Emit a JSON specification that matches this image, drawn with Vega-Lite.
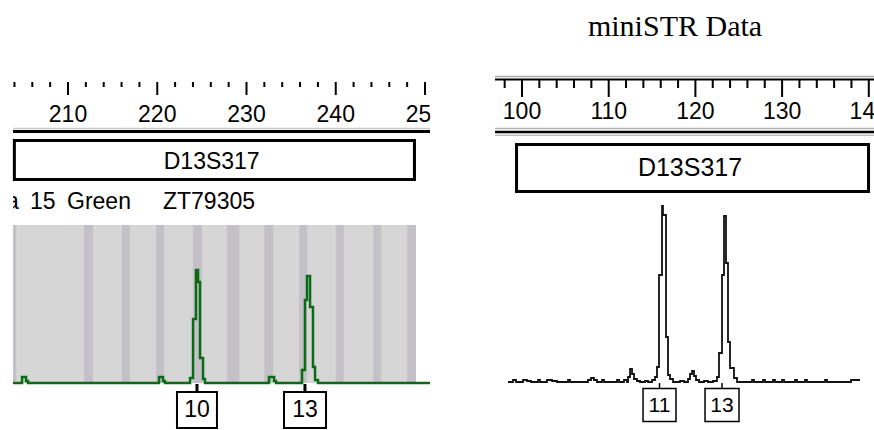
{
  "$schema": "https://vega.github.io/schema/vega-lite/v6.json",
  "width": 874,
  "height": 430,
  "autosize": {"type": "none"},
  "padding": 0,
  "background": "white",
  "config": {"view": {"stroke": null}},
  "datasets": {
    "left_ticks": [
      {"bp": 204, "major": false}, {"bp": 206, "major": false}, {"bp": 208, "major": false}, {"bp": 210, "major": true},
      {"bp": 212, "major": false}, {"bp": 214, "major": false}, {"bp": 216, "major": false}, {"bp": 218, "major": false}, {"bp": 220, "major": true},
      {"bp": 222, "major": false}, {"bp": 224, "major": false}, {"bp": 226, "major": false}, {"bp": 228, "major": false}, {"bp": 230, "major": true},
      {"bp": 232, "major": false}, {"bp": 234, "major": false}, {"bp": 236, "major": false}, {"bp": 238, "major": false}, {"bp": 240, "major": true},
      {"bp": 242, "major": false}, {"bp": 244, "major": false}, {"bp": 246, "major": false}, {"bp": 248, "major": false}, {"bp": 250, "major": true}
    ],
    "right_ticks": [
      {"bp": 98, "major": false}, {"bp": 100, "major": true},
      {"bp": 102, "major": false}, {"bp": 104, "major": false}, {"bp": 106, "major": false}, {"bp": 108, "major": false}, {"bp": 110, "major": true},
      {"bp": 112, "major": false}, {"bp": 114, "major": false}, {"bp": 116, "major": false}, {"bp": 118, "major": false}, {"bp": 120, "major": true},
      {"bp": 122, "major": false}, {"bp": 124, "major": false}, {"bp": 126, "major": false}, {"bp": 128, "major": false}, {"bp": 130, "major": true},
      {"bp": 132, "major": false}, {"bp": 134, "major": false}, {"bp": 136, "major": false}, {"bp": 138, "major": false}, {"bp": 140, "major": true}
    ],
    "left_bins": [
      {"start": 203.84, "end": 204.2},
      {"start": 211.8, "end": 212.8},
      {"start": 216.05, "end": 216.95},
      {"start": 219.87, "end": 220.76},
      {"start": 224.0, "end": 225.0},
      {"start": 227.8, "end": 229.2},
      {"start": 232.0, "end": 233.0},
      {"start": 235.9, "end": 236.8},
      {"start": 240.0, "end": 240.9},
      {"start": 244.2, "end": 245.1},
      {"start": 248.0, "end": 248.99}
    ],
    "left_trace": [
      {"bp": 203.84, "rfu": 0}, {"bp": 204.85, "rfu": 60}, {"bp": 205.3, "rfu": 20}, {"bp": 205.52, "rfu": 0},
      {"bp": 220.2, "rfu": 60}, {"bp": 220.65, "rfu": 20}, {"bp": 220.87, "rfu": 0},
      {"bp": 223.67, "rfu": 50}, {"bp": 224.01, "rfu": 640}, {"bp": 224.34, "rfu": 1130}, {"bp": 224.57, "rfu": 1010},
      {"bp": 224.79, "rfu": 250}, {"bp": 225.13, "rfu": 40}, {"bp": 225.35, "rfu": 0},
      {"bp": 232.52, "rfu": 60}, {"bp": 233.1, "rfu": 20}, {"bp": 233.31, "rfu": 0},
      {"bp": 236.22, "rfu": 130}, {"bp": 236.55, "rfu": 830}, {"bp": 236.78, "rfu": 1070}, {"bp": 237.12, "rfu": 760},
      {"bp": 237.45, "rfu": 160}, {"bp": 237.68, "rfu": 30}, {"bp": 238.01, "rfu": 0}, {"bp": 250.56, "rfu": 0}
    ],
    "right_trace": [
      {"bp": 98.39, "rfu": 10}, {"bp": 98.96, "rfu": 30}, {"bp": 99.31, "rfu": 10}, {"bp": 100.12, "rfu": 30}, {"bp": 100.58, "rfu": 20},
      {"bp": 101.04, "rfu": 10}, {"bp": 101.85, "rfu": 30}, {"bp": 102.08, "rfu": 10}, {"bp": 102.88, "rfu": 30}, {"bp": 103.46, "rfu": 20},
      {"bp": 104.04, "rfu": 10}, {"bp": 105.31, "rfu": 30}, {"bp": 105.54, "rfu": 10}, {"bp": 107.61, "rfu": 30}, {"bp": 107.96, "rfu": 50},
      {"bp": 108.3, "rfu": 30}, {"bp": 108.65, "rfu": 10}, {"bp": 109.23, "rfu": 30}, {"bp": 109.46, "rfu": 10}, {"bp": 110.96, "rfu": 30},
      {"bp": 111.19, "rfu": 10}, {"bp": 111.76, "rfu": 30}, {"bp": 112.11, "rfu": 10}, {"bp": 112.23, "rfu": 60}, {"bp": 112.46, "rfu": 140},
      {"bp": 112.69, "rfu": 90}, {"bp": 112.92, "rfu": 40}, {"bp": 113.26, "rfu": 20}, {"bp": 113.61, "rfu": 10}, {"bp": 114.19, "rfu": 20},
      {"bp": 114.53, "rfu": 10}, {"bp": 115.0, "rfu": 30}, {"bp": 115.34, "rfu": 60}, {"bp": 115.57, "rfu": 160}, {"bp": 115.8, "rfu": 1080},
      {"bp": 116.15, "rfu": 1770}, {"bp": 116.26, "rfu": 1680}, {"bp": 116.61, "rfu": 460}, {"bp": 116.84, "rfu": 80}, {"bp": 117.07, "rfu": 40},
      {"bp": 117.42, "rfu": 10}, {"bp": 118.22, "rfu": 20}, {"bp": 118.69, "rfu": 10}, {"bp": 119.15, "rfu": 40}, {"bp": 119.38, "rfu": 90},
      {"bp": 119.61, "rfu": 120}, {"bp": 119.84, "rfu": 70}, {"bp": 120.07, "rfu": 30}, {"bp": 120.42, "rfu": 10}, {"bp": 121.0, "rfu": 20},
      {"bp": 121.45, "rfu": 10}, {"bp": 122.03, "rfu": 20}, {"bp": 122.49, "rfu": 60}, {"bp": 122.72, "rfu": 300}, {"bp": 123.07, "rfu": 1080},
      {"bp": 123.3, "rfu": 1670}, {"bp": 123.53, "rfu": 1200}, {"bp": 123.76, "rfu": 410}, {"bp": 123.99, "rfu": 150}, {"bp": 124.45, "rfu": 50},
      {"bp": 124.8, "rfu": 10}, {"bp": 126.53, "rfu": 30}, {"bp": 126.76, "rfu": 10}, {"bp": 127.8, "rfu": 30}, {"bp": 128.03, "rfu": 10},
      {"bp": 128.95, "rfu": 30}, {"bp": 129.18, "rfu": 10}, {"bp": 129.99, "rfu": 30}, {"bp": 130.22, "rfu": 10}, {"bp": 131.49, "rfu": 30},
      {"bp": 131.72, "rfu": 10}, {"bp": 132.64, "rfu": 30}, {"bp": 132.87, "rfu": 10}, {"bp": 134.95, "rfu": 30}, {"bp": 135.18, "rfu": 10},
      {"bp": 137.95, "rfu": 30}, {"bp": 138.98, "rfu": 30}
    ],
    "left_calls": [
      {"allele": "10", "bp": 224.45, "lo": 222.21, "hi": 226.69},
      {"allele": "13", "bp": 236.55, "lo": 234.2, "hi": 238.91}
    ],
    "right_calls": [
      {"allele": "11", "bp": 115.86, "lo": 113.96, "hi": 117.76},
      {"allele": "13", "bp": 123.07, "lo": 121.11, "hi": 125.03}
    ],
    "left_marker": [{"marker": "D13S317", "start": 203.99, "end": 248.82, "center": 226.1}],
    "right_marker": [{"marker": "D13S317", "start": 99.37, "end": 139.97, "center": 119.38}],
    "left_sample": [
      {"word": "a", "bp": 203.05},
      {"word": "15", "bp": 205.74},
      {"word": "Green", "bp": 209.89},
      {"word": "ZT79305", "bp": 220.64}
    ]
  },
  "layer": [
    {
      "layer": [
        {
          "data": {"values": [{"start": 203.84, "end": 248.99}]},
          "mark": {"type": "rect", "fill": "#d6d6d6"},
          "encoding": {
            "x": {"field": "start", "type": "quantitative", "scale": {"domain": [202.38, 300.31], "nice": false, "zero": false}, "axis": null},
            "x2": {"field": "end"},
            "y": {"datum": 0, "type": "quantitative", "scale": {"domain": [-470, 3830], "nice": false, "zero": false}, "axis": null},
            "y2": {"datum": 1580}
          }
        },
        {
          "data": {"name": "left_bins"},
          "mark": {"type": "rect", "fill": "#c3c1c7"},
          "encoding": {
            "x": {"field": "start", "type": "quantitative", "axis": null},
            "x2": {"field": "end"},
            "y": {"datum": 0, "type": "quantitative", "axis": null},
            "y2": {"datum": 1580}
          }
        },
        {
          "data": {"name": "left_trace"},
          "mark": {"type": "line", "interpolate": "step-after", "color": "#0a6b14", "strokeWidth": 2.5},
          "encoding": {
            "x": {"field": "bp", "type": "quantitative", "axis": null},
            "y": {"field": "rfu", "type": "quantitative", "axis": null}
          }
        },
        {
          "data": {"name": "left_ticks"},
          "transform": [{"filter": "!datum.major"}],
          "mark": {"type": "rule", "color": "black", "strokeWidth": 2},
          "encoding": {
            "x": {"field": "bp", "type": "quantitative", "axis": null},
            "y": {"datum": 3010, "type": "quantitative", "axis": null},
            "y2": {"datum": 2960}
          }
        },
        {
          "data": {"name": "left_ticks"},
          "transform": [{"filter": "datum.major"}],
          "mark": {"type": "rule", "color": "black", "strokeWidth": 2},
          "encoding": {
            "x": {"field": "bp", "type": "quantitative", "axis": null},
            "y": {"datum": 3010, "type": "quantitative", "axis": null},
            "y2": {"datum": 2880}
          }
        },
        {
          "data": {"name": "left_ticks"},
          "transform": [{"filter": "datum.major"}],
          "mark": {"type": "text", "font": "Liberation Sans", "fontSize": 23, "color": "black", "baseline": "middle", "align": "center"},
          "encoding": {
            "x": {"field": "bp", "type": "quantitative", "axis": null},
            "y": {"datum": 2680, "type": "quantitative", "axis": null},
            "text": {"field": "bp", "type": "quantitative"}
          }
        },
        {
          "data": {"values": [{}]},
          "mark": {"type": "rect", "fill": "white"},
          "encoding": {
            "x": {"datum": 250.6, "type": "quantitative", "axis": null},
            "x2": {"datum": 258},
            "y": {"datum": 2840, "type": "quantitative", "axis": null},
            "y2": {"datum": 2560}
          }
        },
        {
          "data": {"values": [{"start": 203.84, "end": 250.56}]},
          "mark": {"type": "rule", "color": "#c8c8c8", "strokeWidth": 1.5},
          "encoding": {
            "x": {"field": "start", "type": "quantitative", "axis": null},
            "x2": {"field": "end"},
            "y": {"datum": 2545, "type": "quantitative", "axis": null}
          }
        },
        {
          "data": {"values": [{"start": 203.84, "end": 250.56}]},
          "mark": {"type": "rule", "color": "black", "strokeWidth": 3},
          "encoding": {
            "x": {"field": "start", "type": "quantitative", "axis": null},
            "x2": {"field": "end"},
            "y": {"datum": 2515, "type": "quantitative", "axis": null}
          }
        },
        {
          "data": {"name": "left_marker"},
          "mark": {"type": "rect", "fill": "white", "stroke": "black", "strokeWidth": 3},
          "encoding": {
            "x": {"field": "start", "type": "quantitative", "axis": null},
            "x2": {"field": "end"},
            "y": {"datum": 2425, "type": "quantitative", "axis": null},
            "y2": {"datum": 2035}
          }
        },
        {
          "data": {"name": "left_marker"},
          "mark": {"type": "text", "font": "Liberation Sans", "fontSize": 23, "color": "black", "baseline": "middle", "align": "center"},
          "encoding": {
            "x": {"field": "center", "type": "quantitative", "axis": null},
            "y": {"datum": 2210, "type": "quantitative", "axis": null},
            "text": {"field": "marker"}
          }
        },
        {
          "data": {"name": "left_sample"},
          "mark": {"type": "text", "font": "Liberation Sans", "fontSize": 23, "color": "black", "baseline": "middle", "align": "left"},
          "encoding": {
            "x": {"field": "bp", "type": "quantitative", "axis": null},
            "y": {"datum": 1810, "type": "quantitative", "axis": null},
            "text": {"field": "word"}
          }
        },
        {
          "data": {"values": [{}]},
          "mark": {"type": "rect", "fill": "white"},
          "encoding": {
            "x": {"datum": 202.38, "type": "quantitative", "axis": null},
            "x2": {"datum": 203.84},
            "y": {"datum": 1960, "type": "quantitative", "axis": null},
            "y2": {"datum": 1640}
          }
        },
        {
          "data": {"name": "left_calls"},
          "mark": {"type": "rule", "color": "black", "strokeWidth": 3},
          "encoding": {
            "x": {"field": "bp", "type": "quantitative", "axis": null},
            "y": {"datum": -10, "type": "quantitative", "axis": null},
            "y2": {"datum": -90}
          }
        },
        {
          "data": {"name": "left_calls"},
          "mark": {"type": "rect", "fill": "white", "stroke": "black", "strokeWidth": 2},
          "encoding": {
            "x": {"field": "lo", "type": "quantitative", "axis": null},
            "x2": {"field": "hi"},
            "y": {"datum": -90, "type": "quantitative", "axis": null},
            "y2": {"datum": -450}
          }
        },
        {
          "data": {"name": "left_calls"},
          "mark": {"type": "text", "font": "Liberation Sans", "fontSize": 23, "color": "black", "baseline": "middle", "align": "center"},
          "encoding": {
            "x": {"field": "bp", "type": "quantitative", "axis": null},
            "y": {"datum": -270, "type": "quantitative", "axis": null},
            "text": {"field": "allele"}
          }
        }
      ]
    },
    {
      "layer": [
        {
          "data": {"values": [{"title": "miniSTR Data", "bp": 117.65}]},
          "mark": {"type": "text", "font": "Liberation Serif", "fontSize": 30, "color": "black", "baseline": "middle", "align": "center"},
          "encoding": {
            "x": {"field": "bp", "type": "quantitative", "scale": {"domain": [39.79, 140.6], "nice": false, "zero": false}, "axis": null},
            "y": {"datum": 3560, "type": "quantitative", "axis": null},
            "text": {"field": "title"}
          }
        },
        {
          "data": {"values": [{"start": 96.89, "end": 140.6}]},
          "mark": {"type": "rule", "color": "#a8a8a8", "strokeWidth": 1.5},
          "encoding": {
            "x": {"field": "start", "type": "quantitative", "axis": null},
            "x2": {"field": "end"},
            "y": {"datum": 3065, "type": "quantitative", "axis": null}
          }
        },
        {
          "data": {"values": [{"start": 96.89, "end": 140.6}]},
          "mark": {"type": "rule", "color": "black", "strokeWidth": 2},
          "encoding": {
            "x": {"field": "start", "type": "quantitative", "axis": null},
            "x2": {"field": "end"},
            "y": {"datum": 3035, "type": "quantitative", "axis": null}
          }
        },
        {
          "data": {"name": "right_ticks"},
          "transform": [{"filter": "!datum.major"}],
          "mark": {"type": "rule", "color": "black", "strokeWidth": 2},
          "encoding": {
            "x": {"field": "bp", "type": "quantitative", "axis": null},
            "y": {"datum": 3030, "type": "quantitative", "axis": null},
            "y2": {"datum": 2950}
          }
        },
        {
          "data": {"name": "right_ticks"},
          "transform": [{"filter": "datum.major"}],
          "mark": {"type": "rule", "color": "black", "strokeWidth": 2},
          "encoding": {
            "x": {"field": "bp", "type": "quantitative", "axis": null},
            "y": {"datum": 3030, "type": "quantitative", "axis": null},
            "y2": {"datum": 2860}
          }
        },
        {
          "data": {"name": "right_ticks"},
          "transform": [{"filter": "datum.major"}],
          "mark": {"type": "text", "font": "Liberation Sans", "fontSize": 23, "color": "black", "baseline": "middle", "align": "center"},
          "encoding": {
            "x": {"field": "bp", "type": "quantitative", "axis": null},
            "y": {"datum": 2710, "type": "quantitative", "axis": null},
            "text": {"field": "bp", "type": "quantitative"}
          }
        },
        {
          "data": {"values": [{"start": 96.89, "end": 140.6}]},
          "mark": {"type": "rule", "color": "#b0b0b0", "strokeWidth": 1.5},
          "encoding": {
            "x": {"field": "start", "type": "quantitative", "axis": null},
            "x2": {"field": "end"},
            "y": {"datum": 2545, "type": "quantitative", "axis": null}
          }
        },
        {
          "data": {"values": [{"start": 96.89, "end": 140.6}]},
          "mark": {"type": "rule", "color": "black", "strokeWidth": 2.5},
          "encoding": {
            "x": {"field": "start", "type": "quantitative", "axis": null},
            "x2": {"field": "end"},
            "y": {"datum": 2510, "type": "quantitative", "axis": null}
          }
        },
        {
          "data": {"values": [{"start": 96.89, "end": 140.6}]},
          "mark": {"type": "rule", "color": "#c0c0c0", "strokeWidth": 1.5},
          "encoding": {
            "x": {"field": "start", "type": "quantitative", "axis": null},
            "x2": {"field": "end"},
            "y": {"datum": 2478, "type": "quantitative", "axis": null}
          }
        },
        {
          "data": {"name": "right_marker"},
          "mark": {"type": "rect", "fill": "white", "stroke": "black", "strokeWidth": 3},
          "encoding": {
            "x": {"field": "start", "type": "quantitative", "axis": null},
            "x2": {"field": "end"},
            "y": {"datum": 2385, "type": "quantitative", "axis": null},
            "y2": {"datum": 1915}
          }
        },
        {
          "data": {"name": "right_marker"},
          "mark": {"type": "text", "font": "Liberation Sans", "fontSize": 25, "color": "black", "baseline": "middle", "align": "center"},
          "encoding": {
            "x": {"field": "center", "type": "quantitative", "axis": null},
            "y": {"datum": 2150, "type": "quantitative", "axis": null},
            "text": {"field": "marker"}
          }
        },
        {
          "data": {"name": "right_trace"},
          "mark": {"type": "line", "interpolate": "step-after", "color": "#111111", "strokeWidth": 1.8},
          "encoding": {
            "x": {"field": "bp", "type": "quantitative", "axis": null},
            "y": {"field": "rfu", "type": "quantitative", "axis": null}
          }
        },
        {
          "data": {"name": "right_calls"},
          "mark": {"type": "rule", "color": "black", "strokeWidth": 1.5},
          "encoding": {
            "x": {"field": "bp", "type": "quantitative", "axis": null},
            "y": {"datum": 0, "type": "quantitative", "axis": null},
            "y2": {"datum": -55}
          }
        },
        {
          "data": {"name": "right_calls"},
          "mark": {"type": "rect", "fill": "white", "stroke": "black", "strokeWidth": 1.5},
          "encoding": {
            "x": {"field": "lo", "type": "quantitative", "axis": null},
            "x2": {"field": "hi"},
            "y": {"datum": -55, "type": "quantitative", "axis": null},
            "y2": {"datum": -385}
          }
        },
        {
          "data": {"name": "right_calls"},
          "mark": {"type": "text", "font": "Liberation Sans", "fontSize": 21, "color": "black", "baseline": "middle", "align": "center"},
          "encoding": {
            "x": {"field": "bp", "type": "quantitative", "axis": null},
            "y": {"datum": -225, "type": "quantitative", "axis": null},
            "text": {"field": "allele"}
          }
        }
      ]
    }
  ],
  "resolve": {"scale": {"x": "independent"}}
}
